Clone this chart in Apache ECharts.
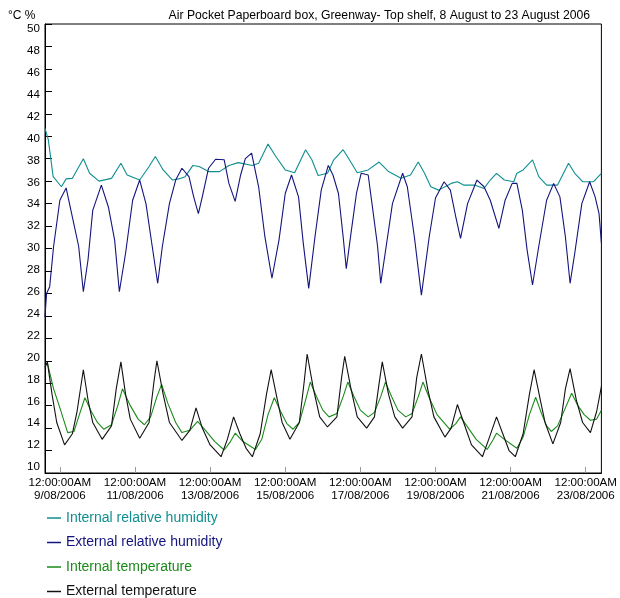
<!DOCTYPE html>
<html>
<head>
<meta charset="utf-8">
<title>Air Pocket Paperboard box, Greenway</title>
<script src="https://cdn.jsdelivr.net/npm/echarts@6/dist/echarts.min.js"></script>
<style>
  html, body { margin: 0; padding: 0; background: #fff; }
  #chart { width: 620px; height: 598px; }
</style>
</head>
<body>
<div id="chart"></div>
<script>
// Logger readings, 8-23 August 2006. Time is in hours after 12:00:00AM on 9/08/2006.
const titleText = 'Air Pocket Paperboard box, Greenway- Top shelf, 8 August to 23 August 2006';
const unitText = '°C %';

const seriesNames = [
  'Internal relative humidity',
  'External relative humidity',
  'Internal temperature',
  'External temperature'
];
const seriesColors = ['#0f8f8f', '#14147e', '#1a8a1a', '#111111'];

// Two-day tick marks along the time axis
const xTickHours = [0, 48, 96, 144, 192, 240, 288, 336];
const xTickDates = ['9/08/2006', '11/08/2006', '13/08/2006', '15/08/2006',
                    '17/08/2006', '19/08/2006', '21/08/2006', '23/08/2006'];
const xTickTime = '12:00:00AM';

// [hour, %RH]
const internalRH = [
  [-9.5,40.7],[-7.4,39.7],[-4.3,36.4],[1,35.5],[4,36.2],[8,36.25],[15,38.0],[19,36.7],
  [25,36.0],[33,36.25],[39,37.6],[43,36.55],[51,36.1],[57,37.3],[61,38.2],[66,37.0],
  [72,36.1],[76,36.2],[80,36.4],[85,37.4],[89,37.3],[95,36.85],[102,36.85],[108,37.4],
  [114,37.65],[123,37.4],[127,37.6],[133,39.3],[138,38.2],[144,37.0],[150,36.75],[157,38.8],
  [161,37.9],[165,36.5],[171,36.7],[175,37.9],[181,38.8],[185,37.9],[190,36.75],[197,37.0],
  [204,37.7],[210,36.85],[218,36.25],[224,36.55],[229,37.7],[233,36.7],[237,35.5],[242,35.2],
  [250,35.8],[254,35.95],[258,35.65],[265,35.65],[271,35.35],[275,36.1],[279,36.7],[284,36.1],
  [290,35.95],[292,36.7],[296,37.0],[302,37.9],[306,36.4],[311,35.65],[318,35.65],[325,37.6],
  [329,36.7],[334,35.95],[341,35.95],[346,36.7]
];

// [hour, %RH]
const externalRH = [
  [-9.5,23.9],[-8.5,26.0],[-6.5,26.6],[-4,30.2],[0,34.3],[4,35.4],[8,32.8],[12,30.2],
  [15,26.15],[18,29.0],[21,33.4],[26.5,35.65],[31,33.7],[35,30.75],[38,26.15],[42,29.6],
  [46.5,34.3],[51,36.1],[55,34.0],[59,30.2],[62.5,26.9],[65.5,30.2],[70,34.0],[74,36.1],
  [78,37.15],[82.5,36.4],[85.5,34.6],[88.5,33.1],[91,34.6],[95,37.15],[99.5,37.95],[105,37.9],
  [108,35.8],[112,34.2],[115.5,36.55],[118.5,38.0],[122.5,38.5],[127,35.5],[131,31.05],[135.5,27.35],
  [140,30.75],[144,34.9],[148,36.55],[152.5,34.6],[155.5,30.5],[159,26.45],[163,31.05],[167,35.2],
  [171.5,37.4],[174.5,36.55],[178,34.9],[181,31.05],[183,28.2],[186,31.35],[189.5,34.9],[192.5,36.7],
  [197,36.55],[200,33.4],[203,30.2],[205,26.9],[208.5,30.2],[212.5,34.0],[219,36.7],[222,35.5],
  [226.5,31.05],[231,25.85],[236,31.05],[240,34.5],[245.5,35.95],[249.5,35.2],[253,32.8],[256,30.9],
  [260.5,34.0],[266.5,36.1],[271,35.5],[275,34.3],[280.5,31.8],[284.5,34.3],[289,35.8],[292,35.8],
  [295.5,33.4],[298.5,29.9],[302,26.75],[306,30.2],[311,34.3],[315.5,35.8],[319.5,34.6],[323,31.05],
  [326,26.9],[329,29.6],[333.5,34.0],[338.5,35.95],[342,34.6],[344.5,33.1],[346,30.5]
];

// [hour, °C]
const internalTemp = [
  [-9.5,19.5],[-8,19.8],[-4,17.5],[0,15.8],[5,13.6],[9,13.7],[12,15.0],[16,16.7],
  [20,15.5],[24,14.5],[28,13.9],[33,14.3],[37,16.0],[40,17.5],[45,16.0],[50,14.8],
  [54,14.3],[58,15.0],[62,16.8],[65,17.9],[69,16.2],[74,14.5],[78,13.6],[83,13.8],
  [88,14.6],[93,13.8],[99,12.8],[105,12.05],[109,12.8],[112,13.55],[117,12.8],[125,12.1],
  [129,13.0],[133,15.2],[137,16.7],[141,15.5],[145,14.4],[149,13.9],[153,14.5],[157,16.5],
  [160,18.1],[164,16.8],[168,15.6],[172,15.0],[177,15.3],[181,16.8],[184,18.1],[188,16.8],
  [192,15.6],[197,15.0],[201,15.4],[205,16.8],[208,18.1],[212,16.8],[216,15.6],[221,15.0],
  [225,15.3],[229,16.8],[232,18.1],[236,16.7],[241,15.2],[249,13.9],[253,14.4],[256,15.0],
  [260,14.2],[266,13.0],[273,12.1],[277,13.0],[279,13.55],[284,13.0],[292,12.2],[296,13.2],
  [300,15.2],[304,16.75],[308,15.2],[311,14.2],[314,13.7],[318,14.2],[323,15.8],[327,17.1],
  [331,16.0],[335,15.2],[339,14.7],[343,14.8],[346,15.6]
];

// [hour, °C]
const externalTemp = [
  [-9.5,19.4],[-8,19.9],[-5,17.0],[-2,14.5],[3,12.5],[8,13.5],[11,15.5],[15,19.2],
  [18,16.5],[21,14.5],[27,13.0],[33,14.2],[36,17.5],[39,19.9],[42,17.0],[45,14.8],
  [51,13.1],[57,14.5],[60,18.0],[62,20.0],[66,17.0],[70,14.5],[78,12.9],[83,13.8],
  [87,15.8],[91,14.0],[96,12.5],[103,11.45],[107,13.0],[111,15.0],[115,13.5],[119,12.2],
  [123,11.45],[128,13.5],[132,17.0],[135,19.2],[139,16.5],[142,14.5],[147,13.0],[153,14.5],
  [156,18.0],[158,20.6],[162,17.5],[166,15.0],[171,14.1],[177,15.0],[180,18.5],[182,20.4],
  [186,17.5],[190,15.0],[196,14.0],[201,15.0],[204,18.0],[206,19.9],[210,17.0],[214,15.0],
  [219,14.0],[225,15.0],[228,18.5],[231,20.6],[235,17.5],[239,15.0],[246,13.2],[250,14.0],
  [254,16.1],[258,14.5],[263,12.5],[270,11.45],[274,13.0],[279,15.0],[283,13.5],[287,12.0],
  [291,11.45],[296,13.5],[300,17.0],[303,19.2],[307,16.5],[310,14.5],[315,12.6],[320,14.5],
  [323,17.5],[326,19.3],[330,16.5],[334,14.5],[339,13.6],[343,15.5],[346,17.7]
];

const seriesData = [internalRH, externalRH, internalTemp, externalTemp];
const fontFamily = '"Liberation Sans", Arial, sans-serif';

const chart = echarts.init(document.getElementById('chart'), null, { renderer: 'canvas' });

chart.setOption({
  animation: false,
  backgroundColor: '#ffffff',
  textStyle: { fontFamily: fontFamily },
  title: [
    {
      text: titleText, right: 30, top: 9.5, padding: 0,
      textStyle: { fontSize: 12.2, fontWeight: 'normal', color: '#000', fontFamily: fontFamily }
    },
    {
      text: unitText, left: 8, top: 9.5, padding: 0,
      textStyle: { fontSize: 12, fontWeight: 'normal', color: '#000', fontFamily: fontFamily }
    }
  ],
  legend: {
    orient: 'vertical',
    left: 47, top: 510, height: 120,
    padding: 0,
    icon: 'rect',
    itemWidth: 14, itemHeight: 1.5,
    itemGap: 8.5,
    selectedMode: false,
    textStyle: { fontSize: 14, lineHeight: 16, fontFamily: fontFamily },
    data: seriesNames.map((n, i) => ({ name: n, textStyle: { color: seriesColors[i] } }))
  },
  grid: [
    // plotting frame
    { left: 45, top: 24, width: 560, height: 449, show: true,
      borderColor: '#000', borderWidth: 1, backgroundColor: 'transparent' },
    // value labels of the left scale
    { left: 45, top: 29, width: 560, height: 438 }
  ],
  xAxis: [
    {
      gridIndex: 0, type: 'value', min: -9.5, max: 346,
      axisLine: { show: true, onZero: false, lineStyle: { color: '#000', width: 1 } },
      axisTick: { show: true, inside: true, length: 6, customValues: xTickHours,
                  lineStyle: { color: '#9a9a9a', width: 1 } },
      axisLabel: {
        customValues: xTickHours,
        margin: 3, fontSize: 11.6, lineHeight: 13, color: '#000',
        fontFamily: fontFamily,
        formatter: function (v) {
          const i = xTickHours.indexOf(v);
          return xTickTime + '\n' + (i >= 0 ? xTickDates[i] : '');
        }
      },
      splitLine: { show: false }
    },
    { gridIndex: 1, type: 'value', min: 0, max: 1, show: false }
  ],
  yAxis: [
    {
      gridIndex: 0, type: 'value', min: 10, max: 50, interval: 2,
      axisLine: { show: true, onZero: false, lineStyle: { color: '#000', width: 1 } },
      axisTick: { show: true, inside: true, length: 7, lineStyle: { color: '#000', width: 1 } },
      axisLabel: { show: false },
      splitLine: { show: false }
    },
    {
      gridIndex: 1, type: 'value', min: 10, max: 50, interval: 2,
      axisLine: { show: false, onZero: false }, axisTick: { show: false },
      axisLabel: { margin: 5, fontSize: 11.6, color: '#000', fontFamily: fontFamily },
      splitLine: { show: false }
    }
  ],
  series: seriesNames.map((n, i) => ({
    name: n,
    type: 'line',
    xAxisIndex: 0, yAxisIndex: 0,
    data: seriesData[i],
    showSymbol: false,
    symbol: 'none',
    lineStyle: { color: seriesColors[i], width: 1.1 },
    itemStyle: { color: seriesColors[i] },
    emphasis: { disabled: true }
  }))
});
</script>
</body>
</html>
